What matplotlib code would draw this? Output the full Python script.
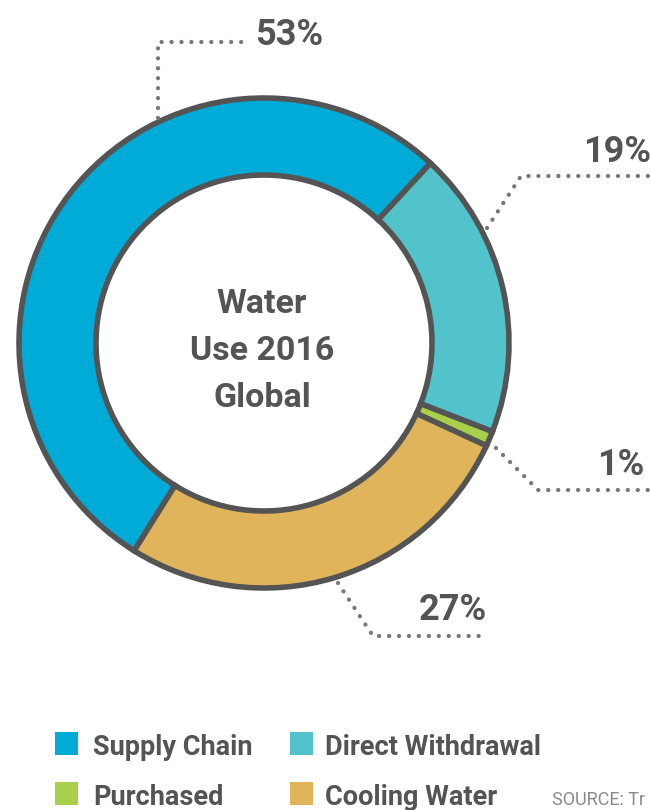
import matplotlib.pyplot as plt
from matplotlib.patches import Rectangle

# data
labels = ["Supply Chain", "Direct Withdrawal", "Purchased", "Cooling Water"]
values = [53, 19, 1, 27]
colors = ["#00abd8", "#52c3ca", "#a8d04a", "#dfb45a"]
pct_labels = ["53%", "19%", "1%", "27%"]
center_title = ["Water", "Use 2016", "Global"]
source = "SOURCE: Tr"

W, H = 650, 810
DARK = "#545454"
DOT = "#777777"
FONT = ["Roboto", "DejaVu Sans"]


def Y(y):
    # pixel row (from top) -> data y
    return H - y


fig = plt.figure(figsize=(6.5, 8.1), dpi=100)
ax = fig.add_axes([0, 0, 1, 1])

cx, cy = 264, Y(343)
ax.pie(values, colors=colors, startangle=238, counterclock=False,
       radius=245, center=(cx, cy),
       wedgeprops=dict(width=77, edgecolor=DARK, linewidth=4))

ax.set_xlim(0, W)
ax.set_ylim(0, H)
ax.set_aspect("equal")
ax.axis("off")

# leader lines (pixel coords from the top-left corner)
leaders = [
    [(158, 118), (158, 42), (243, 42)],
    [(487, 228), (521, 176), (650, 176)],
    [(496, 448), (538, 490), (650, 490)],
    [(338, 583), (373, 636), (487, 636)],
]
for pts in leaders:
    xs = [p[0] for p in pts]
    ys = [Y(p[1]) for p in pts]
    ax.plot(xs, ys, color=DOT, lw=3.1, ls=(0, (0.01, 2.3)),
            dash_capstyle="round", solid_capstyle="round")

# percent labels
pct_pos = [(255, 45), (583, 162), (597, 475), (419, 620)]
for txt, (x, y) in zip(pct_labels, pct_pos):
    ax.text(x, Y(y), txt, fontsize=26, fontweight="bold", color=DARK,
            family=FONT, ha="left", va="baseline")

# centre title
for i, line in enumerate(center_title):
    ax.text(262, Y(313 + 47 * i), line, fontsize=24.5, fontweight="bold",
            color=DARK, family=FONT, ha="center", va="baseline")

# legend
leg_x = [(55, 93), (290, 325), (55, 93), (290, 325)]
leg_y = [755, 755, 805, 805]
for lab, col, (sx, tx), by in zip(labels, colors, leg_x, leg_y):
    ax.add_patch(Rectangle((sx, Y(by)), 23, 23, facecolor=col, edgecolor="none"))
    ax.text(tx, Y(by), lab, fontsize=19.5, fontweight="bold", color=DARK,
            family=FONT, ha="left", va="baseline")

ax.text(552, Y(805), source, fontsize=13, color="#8a8a8a", family=FONT,
        ha="left", va="baseline")

fig.savefig("out.png", dpi=100)
